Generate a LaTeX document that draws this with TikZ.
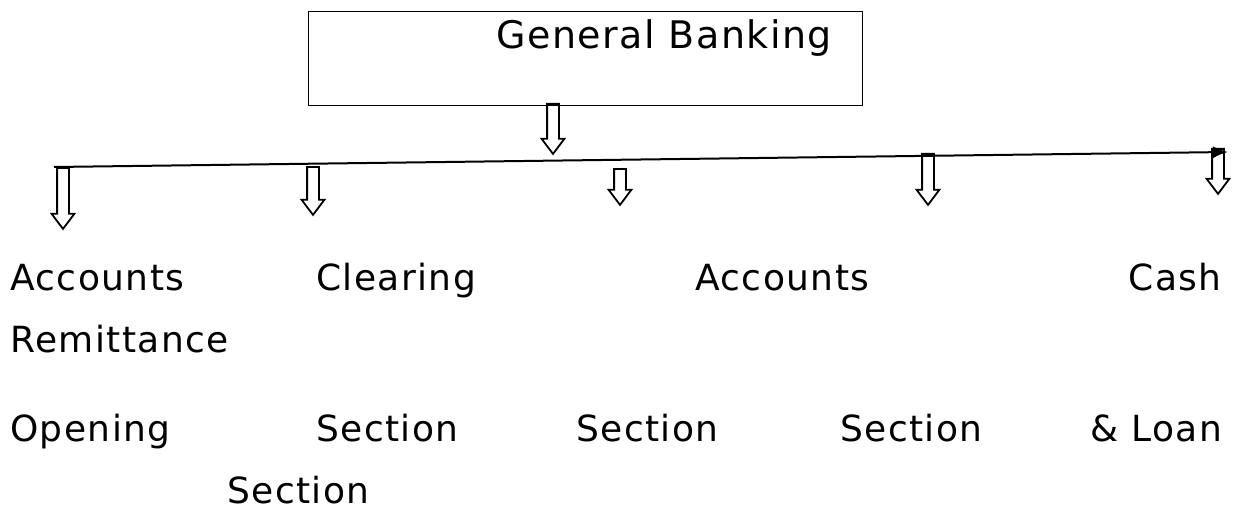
\documentclass[tikz,border=0pt]{standalone}
\usepackage{fontspec}
\setmainfont{DejaVu Sans}[LetterSpace=4]
\usetikzlibrary{shapes,arrows,arrows.meta,positioning}

\tikzset{
    blockarrow/.style={single arrow, draw, line width=1.8pt, inner sep=5pt,
        minimum width=0pt, single arrow head extend=5.5pt,
        single arrow tip angle=74, shape border rotate=270, anchor=tail},
    lbl/.style={anchor=base west, inner sep=0pt, font=\fontsize{36}{40}\selectfont}
}

\begin{document}
\begin{tikzpicture}[x=1pt, y=-1pt]
    \useasboundingbox (0,0) rectangle (1234,516);

    \node (gb) [draw, line width=1.4pt, anchor=north west, minimum width=554pt, minimum height=94pt] at (308,11) {};
    \node (gbt) [lbl, font=\fontsize{38}{42}\selectfont] at (496,49) {General Banking};

    % top arrow and the long line
    \node (a0) [blockarrow, minimum height=50pt] at (553,103) {};
    \coordinate (lft) at (54,167);
    \coordinate (rgt) at (1228,152);
    \draw [line width=2pt, -{Latex[length=15pt,width=12pt]}] (lft) -- (rgt);

    % arrows to the sections
    \node (a1) [blockarrow, minimum height=61pt] at (63,167) {};
    \node (a2) [blockarrow, minimum height=48pt] at (313,166) {};
    \node (a3) [blockarrow, minimum height=36pt] at (620,168) {};
    \node (a4) [blockarrow, minimum height=51pt] at (928,153) {};
    \node (a5) [blockarrow, minimum height=45pt] at (1218,148) {};

    \node (acc)  [lbl] at (10,290)   {Accounts};
    \node (clr)  [lbl] at (316,290)  {Clearing};
    \node (acc2) [lbl] at (695,290)  {Accounts};
    \node (cash) [lbl, anchor=base east] at (1222,290) {Cash};
    \node (rem)  [lbl] at (10,352)   {Remittance};
    \node (opn)  [lbl] at (10,441)   {Opening};
    \node (sec1) [lbl] at (316,441)  {Section};
    \node (sec2) [lbl] at (576,441)  {Section};
    \node (sec3) [lbl] at (840,441)  {Section};
    \node (loan) [lbl, anchor=base east] at (1222,441) {\& Loan};
    \node (sec4) [lbl] at (227,503)  {Section};
\end{tikzpicture}
\end{document}
